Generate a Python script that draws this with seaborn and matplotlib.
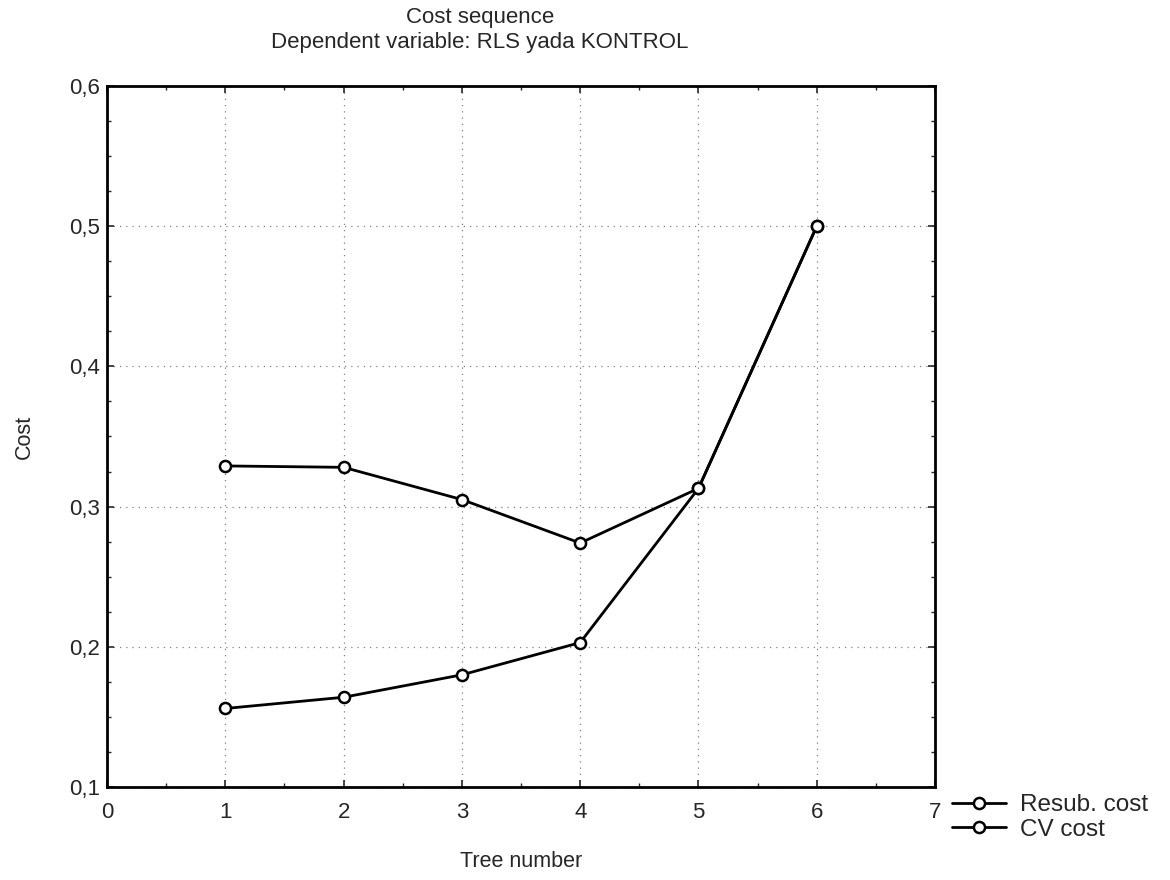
import numpy as np
import pandas as pd
import matplotlib.pyplot as plt
from matplotlib.ticker import MultipleLocator, FormatStrFormatter
import seaborn as sns

# ------------------------
# Data
# ------------------------
tree_number = [1, 2, 3, 4, 5, 6]
resub_cost = [0.156, 0.164, 0.180, 0.203, 0.313, 0.500]
cv_cost = [0.329, 0.328, 0.305, 0.274, 0.313, 0.500]
series_names = ["Resub. cost", "CV cost"]

df = pd.DataFrame({
    "Tree number": tree_number * 2,
    "Cost": resub_cost + cv_cost,
    "series": [series_names[0]] * len(tree_number) + [series_names[1]] * len(tree_number),
})

# ------------------------
# Style
# ------------------------
sns.set_style("ticks")
plt.rcParams['font.family'] = ['Liberation Sans', 'DejaVu Sans']

fig = plt.figure(figsize=(11.7, 8.8), dpi=100)
ax = fig.add_axes([0.0915, 0.1057, 0.7077, 0.7966])

sns.lineplot(data=df, x="Tree number", y="Cost", hue="series",
             palette=["black", "black"], marker="o", markersize=8,
             markerfacecolor="white", markeredgecolor="black", markeredgewidth=1.8,
             linewidth=2.0, ax=ax, legend=True)

ax.set_xlim(0, 7)
ax.set_ylim(0.1, 0.6)
ax.xaxis.set_major_locator(MultipleLocator(1))
ax.xaxis.set_minor_locator(MultipleLocator(0.5))
ax.yaxis.set_major_locator(MultipleLocator(0.1))
ax.yaxis.set_minor_locator(MultipleLocator(0.025))
ax.yaxis.set_major_formatter(plt.FuncFormatter(lambda v, p: f"{v:.1f}".replace(".", ",")))
ax.xaxis.set_major_formatter(FormatStrFormatter("%d"))

ax.tick_params(which="both", direction="in", top=True, right=True, labelsize=16)
ax.tick_params(which="major", length=5, width=1.2)
ax.tick_params(axis="x", which="major", pad=11)
ax.tick_params(axis="y", which="major", pad=5)
ax.tick_params(which="minor", length=3, width=1.0)
for s in ax.spines.values():
    s.set_linewidth(2.0)
    s.set_color("black")

ax.grid(True, which="major", linestyle=(0, (1, 4)), color="#808080", linewidth=0.9)

ax.set_xlabel("Tree number", fontsize=15.5, labelpad=20)
ax.set_ylabel("Cost", fontsize=15.5, labelpad=25)

fig.text(0.41, 0.992, "Cost sequence", ha="center", va="top", fontsize=16)
fig.text(0.41, 0.964, "Dependent variable: RLS yada KONTROL", ha="center", va="top", fontsize=16)

handles, labels = ax.get_legend_handles_labels()
ax.legend(handles, labels, loc="upper left", bbox_to_anchor=(1.0, 0.014),
          frameon=False, fontsize=17.5, handlelength=2.2, handletextpad=0.6,
          labelspacing=0.1, borderaxespad=0.3)

fig.savefig("out.png", dpi=100)
